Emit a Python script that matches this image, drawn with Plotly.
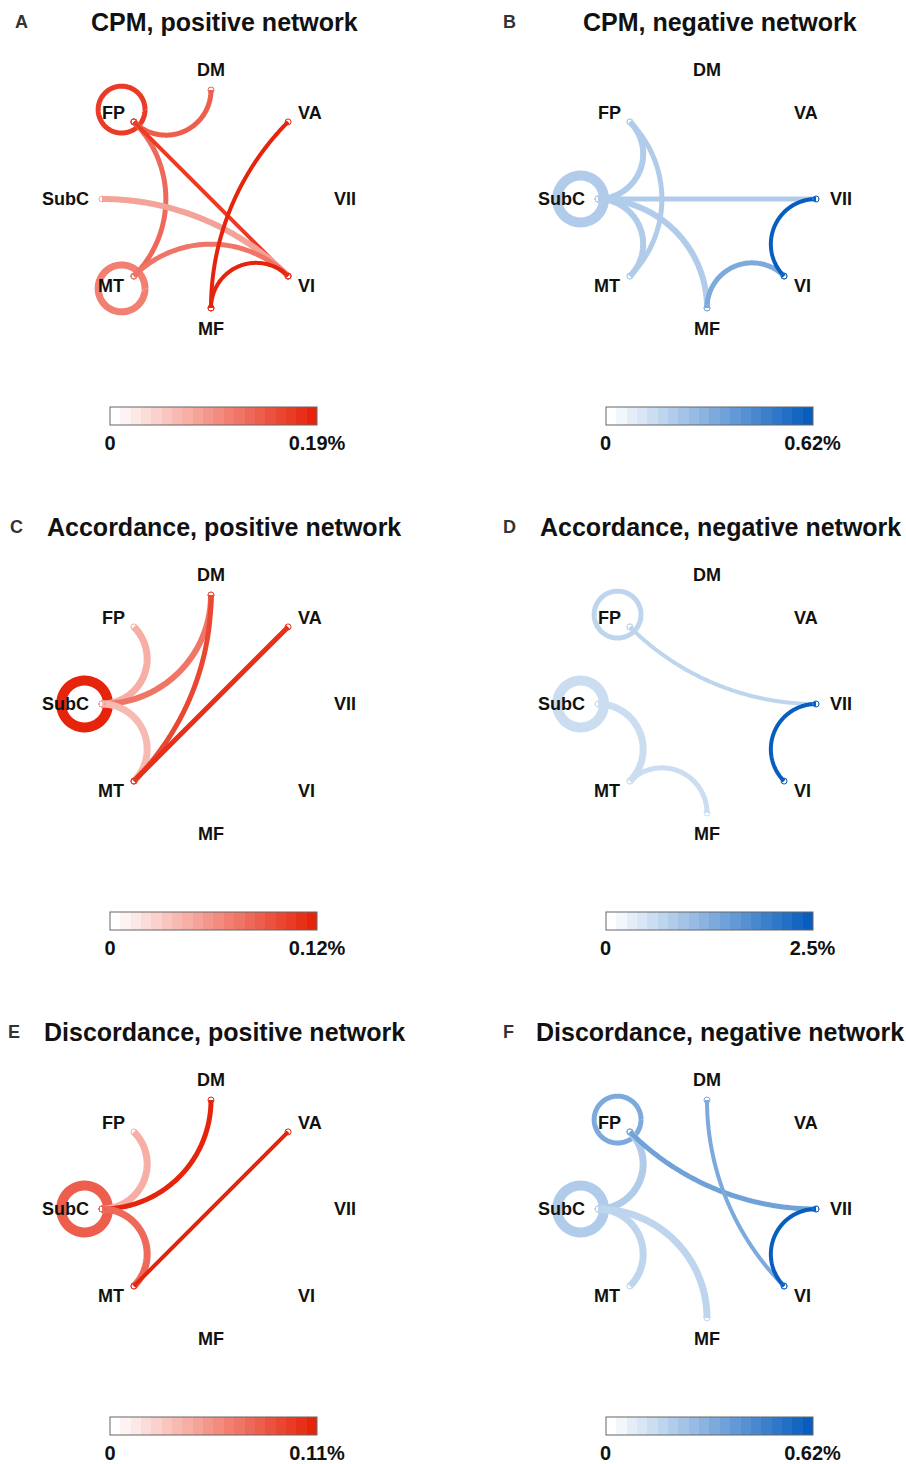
import numpy as np
import plotly.graph_objects as go

W, H = 906, 1464
FONT = "Liberation Sans"

# ---- network nodes (angle in degrees on the ring) ----
nodes = ["DM", "VA", "VII", "VI", "MF", "MT", "SubC", "FP"]
node_angle = [90, 45, 0, -45, -90, -135, 180, 135]

# ---- edge lists per panel: source, target, value (% of possible edges), strength ----
a_src = ["FP", "MT", "FP", "FP", "FP", "SubC", "MT", "VA", "MF"]
a_dst = ["FP", "MT", "DM", "MT", "VI", "VI", "VI", "MF", "VI"]
a_val = [0.17, 0.105, 0.14, 0.125, 0.165, 0.085, 0.12, 0.19, 0.19]
a_str = [5, 7, 5, 5, 4, 6, 5, 4, 4]

b_src = ["SubC", "SubC", "SubC", "FP", "SubC", "SubC", "MF", "VII"]
b_dst = ["SubC", "FP", "MT", "MT", "VII", "MF", "VI", "VI"]
b_val = [0.19, 0.19, 0.19, 0.19, 0.20, 0.19, 0.31, 0.62]
b_str = [10, 6, 6, 5, 5, 6, 5, 4]

c_src = ["SubC", "SubC", "SubC", "SubC", "MT", "MT"]
c_dst = ["SubC", "FP", "DM", "MT", "DM", "VA"]
c_val = [0.12, 0.042, 0.072, 0.036, 0.10, 0.108]
c_str = [10, 7, 6, 7, 5, 5]

d_src = ["FP", "SubC", "FP", "SubC", "MT", "VII"]
d_dst = ["FP", "SubC", "VII", "MT", "MF", "VI"]
d_val = [0.7, 0.6, 0.7, 0.6, 0.6, 2.5]
d_str = [5, 10, 4, 7, 5, 4]

e_src = ["SubC", "SubC", "SubC", "SubC", "MT"]
e_dst = ["SubC", "FP", "DM", "MT", "VA"]
e_val = [0.08, 0.044, 0.11, 0.072, 0.11]
e_str = [10, 7, 5, 7, 4]

f_src = ["FP", "SubC", "SubC", "SubC", "SubC", "FP", "DM", "VII"]
f_dst = ["FP", "SubC", "FP", "MT", "MF", "VII", "VI", "VI"]
f_val = [0.31, 0.20, 0.19, 0.17, 0.17, 0.37, 0.34, 0.62]
f_str = [5, 10, 7, 7, 7, 5, 4, 4]

# colour-bar maxima (%) and tick labels
vmax = [0.19, 0.62, 0.12, 2.5, 0.11, 0.62]
vmax_text = ["0.19%", "0.62%", "0.12%", "2.5%", "0.11%", "0.62%"]

letters = ["A", "B", "C", "D", "E", "F"]
titles = ["CPM, positive network", "CPM, negative network",
          "Accordance, positive network", "Accordance, negative network",
          "Discordance, positive network", "Discordance, negative network"]

RED = (230, 36, 12)
BLUE = (8, 94, 190)
panel_color = [RED, BLUE, RED, BLUE, RED, BLUE]

panels = [
    (a_src, a_dst, a_val, a_str),
    (b_src, b_dst, b_val, b_str),
    (c_src, c_dst, c_val, c_str),
    (d_src, d_dst, d_val, d_str),
    (e_src, e_dst, e_val, e_str),
    (f_src, f_dst, f_val, f_str),
]

# ---- layout geometry (pixels) ----
R_PX = 109.0                         # ring radius
col_x = [211, 707]
row_y = [199, 704, 1209]
HALF = 190                           # half-size of each panel's plotting box
title_x = [224, 720]
letter_x = [[21, 509], [16, 509], [14, 508]]
cbar_top = [407, 912, 1417]
cbar_cx = [213.5, 709]
CBAR_LEN = 207
NSTEP = 20

# node label centres in ring-radius units
label_pos = {
    "DM": (0.0, 1.183), "VA": (0.908, 0.789), "VII": (1.229, 0.0),
    "VI": (0.872, -0.798), "MF": (0.0, -1.19), "MT": (-0.917, -0.798),
    "SubC": (-1.339, 0.0), "FP": (-0.899, 0.789),
}

LOOP_OFF = 1.16    # loop centre distance (ring units)
LOOP_R = 0.215     # loop radius (ring units)


def step_colors(top):
    cols = []
    for k in range(NSTEP):
        t = k / (NSTEP - 1)
        c = tuple(int(round(255 + (top[i] - 255) * t)) for i in range(3))
        cols.append("rgb(%d,%d,%d)" % c)
    return cols


def step_scale(cols):
    sc = []
    for k, c in enumerate(cols):
        sc.append([k / NSTEP, c])
        sc.append([(k + 1) / NSTEP, c])
    return sc


def color_for(frac, cols):
    k = min(int(np.floor(frac * NSTEP)), NSTEP - 1)
    return cols[max(k, 0)]


def node_xy(name):
    a = np.deg2rad(node_angle[nodes.index(name)])
    return np.cos(a), np.sin(a)


def geodesic(n1, n2, npts=120):
    """Arc orthogonal to the unit ring joining two nodes."""
    a1 = np.deg2rad(node_angle[nodes.index(n1)])
    a2 = np.deg2rad(node_angle[nodes.index(n2)])
    d = (a2 - a1 + np.pi) % (2 * np.pi) - np.pi
    p1 = np.array([np.cos(a1), np.sin(a1)])
    p2 = np.array([np.cos(a2), np.sin(a2)])
    if abs(abs(d) - np.pi) < 1e-6:
        t = np.linspace(0, 1, 2)
        pts = p1[None, :] * (1 - t)[:, None] + p2[None, :] * t[:, None]
        return pts[:, 0], pts[:, 1]
    half = abs(d) / 2
    mid = a1 + d / 2
    cdist = 1 / np.cos(half)
    rad = np.tan(half)
    c = np.array([np.cos(mid), np.sin(mid)]) * cdist
    f1 = np.arctan2(p1[1] - c[1], p1[0] - c[0])
    f2 = np.arctan2(p2[1] - c[1], p2[0] - c[0])
    df = (f2 - f1 + np.pi) % (2 * np.pi) - np.pi
    f = f1 + df * np.linspace(0, 1, npts)
    return c[0] + rad * np.cos(f), c[1] + rad * np.sin(f)


def loop(n, npts=240):
    a = np.deg2rad(node_angle[nodes.index(n)])
    cx, cy = LOOP_OFF * np.cos(a), LOOP_OFF * np.sin(a)
    f = np.linspace(0, 2 * np.pi, npts)
    return cx + LOOP_R * np.cos(f), cy + LOOP_R * np.sin(f)


fig = go.Figure()
layout = dict(width=W, height=H, margin=dict(l=0, r=0, t=0, b=0),
              paper_bgcolor="white", plot_bgcolor="white", showlegend=False)
annotations = []

for p, (src, dst, val, strength) in enumerate(panels):
    row, col = divmod(p, 2)
    cx, cy = col_x[col], row_y[row]
    sfx = "" if p == 0 else str(p + 1)
    xa, ya = "x" + sfx, "y" + sfx
    rng = HALF / R_PX
    layout["xaxis" + sfx] = dict(domain=[(cx - HALF) / W, (cx + HALF) / W],
                                 range=[-rng, rng], visible=False, fixedrange=True)
    layout["yaxis" + sfx] = dict(domain=[1 - (cy + HALF) / H, 1 - (cy - HALF) / H],
                                 range=[-rng, rng], visible=False, fixedrange=True)

    cols = step_colors(panel_color[p])
    vm = vmax[p]

    # edges (loops first so they sit underneath)
    order = sorted(range(len(src)), key=lambda i: 0 if src[i] == dst[i] else 1)
    ex, ey, ev = [], [], []
    for i in order:
        if src[i] == dst[i]:
            x, y = loop(src[i])
        else:
            x, y = geodesic(src[i], dst[i])
        fig.add_trace(go.Scatter(
            x=x, y=y, mode="lines", xaxis=xa, yaxis=ya, hoverinfo="skip",
            line=dict(color=color_for(val[i] / vm, cols), width=strength[i],
                      simplify=False),
        ))
        for n in {src[i], dst[i]}:
            nx, ny = node_xy(n)
            ex.append(nx)
            ey.append(ny)
            ev.append(val[i])

    # endpoint rings, tied to the panel's colour axis
    cax = "coloraxis" + ("" if p == 0 else str(p + 1))
    fig.add_trace(go.Scatter(
        x=ex, y=ey, mode="markers", xaxis=xa, yaxis=ya, hoverinfo="skip",
        marker=dict(symbol="circle-open", size=6, color=ev, coloraxis=cax,
                    line=dict(width=1)),
    ))

    layout[cax] = dict(
        cmin=0, cmax=vm, colorscale=step_scale(cols), showscale=True,
        colorbar=dict(
            orientation="h", x=cbar_cx[col] / W, xanchor="center",
            y=1 - cbar_top[row] / H, yanchor="top", ypad=0, xpad=0,
            lenmode="pixels", len=CBAR_LEN, thicknessmode="pixels", thickness=18,
            tickvals=[0, vm], ticktext=["<b>0</b>", "<b>%s</b>" % vmax_text[p]],
            ticks="", tickfont=dict(family=FONT, size=20, color="#111"),
            outlinewidth=1, outlinecolor="#666",
        ),
    )

    # node labels
    for n in nodes:
        lx, ly = label_pos[n]
        annotations.append(dict(
            x=lx, y=ly, xref=xa, yref=ya, text="<b>%s</b>" % n, showarrow=False,
            xanchor="center", yanchor="middle",
            font=dict(family=FONT, size=18, color="#111"),
        ))

    # panel letter and title
    annotations.append(dict(
        x=letter_x[row][col] / W, y=1 - (row_y[row] - 177) / H, xref="paper", yref="paper",
        text="<b>%s</b>" % letters[p], showarrow=False, xanchor="center", yanchor="middle",
        font=dict(family=FONT, size=18, color="#333"),
    ))
    annotations.append(dict(
        x=title_x[col] / W, y=1 - (row_y[row] - 177) / H, xref="paper", yref="paper",
        text="<b>%s</b>" % titles[p], showarrow=False, xanchor="center", yanchor="middle",
        font=dict(family=FONT, size=25, color="#111"),
    ))

layout["annotations"] = annotations
fig.update_layout(**layout)
fig.write_html("out.html")
